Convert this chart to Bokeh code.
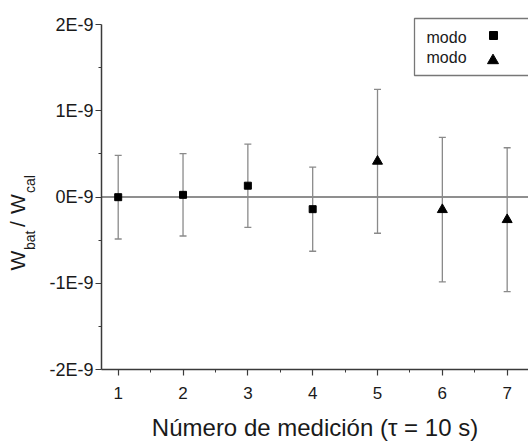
import numpy as np
from bokeh.plotting import figure
from bokeh.models import FixedTicker, Span, Range1d
from bokeh.core.properties import value
from bokeh.embed import file_html
from bokeh.resources import INLINE

# ---- data ----
sq_x = [1, 2, 3, 4]
sq_y = [-0.002e-9, 0.025e-9, 0.131e-9, -0.141e-9]
sq_err = [0.485e-9, 0.477e-9, 0.483e-9, 0.488e-9]

tr_x = [5, 6, 7]
tr_y = [0.414e-9, -0.147e-9, -0.263e-9]
tr_err = [0.834e-9, 0.838e-9, 0.834e-9]

y_ticks = [-2e-9, -1e-9, 0.0, 1e-9, 2e-9]
y_tick_labels = ["-2E-9", "-1E-9", "0E-9", "1E-9", "2E-9"]
y_minor = [-1.5e-9, -0.5e-9, 0.5e-9, 1.5e-9]
x_ticks = [1, 2, 3, 4, 5, 6, 7]
x_minor = [1.5, 2.5, 3.5, 4.5, 5.5, 6.5]

legend_labels = ["modo", "modo"]
x_title = "Número de medición (τ = 10 s)"
y_title_parts = ["W", "bat", "/", "W", "cal"]

FONT = "Liberation Sans"
BASE_K = 0.38  # correction: rendered alphabetic baseline sits lower by ~k*font size

# ---- layout geometry (pixels) ----
W, H = 528, 442
LEFT, RIGHT, TOP, BOTTOM = 101, 528, 5, 369
XS, XE = 0.7424, 7.329
YS = -2e-9
YE = YS + (BOTTOM - TOP) / 86.25 * 1e-9


def px2x(px):
    return XS + (px - LEFT) / (RIGHT - LEFT) * (XE - XS)


def px2y(py):
    return YS + (BOTTOM - py) / (BOTTOM - TOP) * (YE - YS)


p = figure(width=W, height=H, output_backend="svg", toolbar_location=None,
           x_range=Range1d(XS, XE), y_range=Range1d(YS, YE),
           min_border_left=LEFT, min_border_right=W - RIGHT,
           min_border_top=TOP, min_border_bottom=H - BOTTOM)
p.outline_line_color = None
p.grid.visible = False
p.background_fill_color = "white"
p.border_fill_color = "white"

AX = "#3a3a3a"
for ax in (p.xaxis[0], p.yaxis[0]):
    ax.axis_line_color = AX
    ax.axis_line_width = 1.5
    ax.major_tick_line_color = AX
    ax.minor_tick_line_color = AX
    ax.major_tick_line_width = 1.2
    ax.minor_tick_line_width = 1.0
    ax.major_tick_in = 0
    ax.major_tick_out = 6
    ax.minor_tick_in = 0
    ax.minor_tick_out = 3
    ax.major_label_text_font = FONT
    ax.major_label_text_color = "#1a1a1a"

p.yaxis[0].ticker = FixedTicker(ticks=y_ticks, minor_ticks=y_minor)
p.yaxis[0].major_label_overrides = {t: l for t, l in zip(y_ticks, y_tick_labels)}
p.yaxis[0].bounds = (-2e-9, 2e-9)
p.yaxis[0].major_label_text_font_size = "18px"
p.yaxis[0].major_label_standoff = 2

p.xaxis[0].ticker = FixedTicker(ticks=x_ticks, minor_ticks=x_minor)
p.xaxis[0].major_label_text_font_size = "17px"
p.xaxis[0].major_label_standoff = 11

# zero line
p.add_layout(Span(location=0, dimension="width", line_color="#6a6a6a",
                  line_width=1.5, level="underlay"))

EB = "#8a8a8a"
for xs, ys, es, marker, size in ((sq_x, sq_y, sq_err, "square", 7),
                                 (tr_x, tr_y, tr_err, "triangle", 10)):
    lo = [y - e for y, e in zip(ys, es)]
    hi = [y + e for y, e in zip(ys, es)]
    p.segment(x0=xs, y0=lo, x1=xs, y1=hi, line_color=EB, line_width=1.3)
    p.scatter(x=xs + xs, y=lo + hi, marker="dash", size=7, line_color=EB, line_width=1.3)
    p.scatter(x=xs, y=ys, marker=marker, size=size, fill_color="black", line_color="black")

# legend (text first, then marker), box clipped at right edge
p.quad(left=[px2x(414)], right=[px2x(540)], top=[px2y(18)], bottom=[px2y(75)],
       fill_color="white", line_color="#777777", line_width=1.3)
p.text(x=[px2x(426), px2x(426)], y=[px2y(43 - BASE_K * 16), px2y(63 - BASE_K * 16)],
       text=legend_labels, text_font=value(FONT), text_font_size="16px",
       text_color="#1a1a1a", text_baseline="alphabetic", text_align="left")
p.scatter(x=[px2x(493)], y=[px2y(35)], marker="square", size=8, fill_color="black", line_color="black")
p.scatter(x=[px2x(492.5)], y=[px2y(60)], marker="triangle", size=11, fill_color="black", line_color="black")

# y-axis title  W_bat / W_cal (rotated), drawn outside the frame
yfs_num = [21, 14, 21, 21, 14]
ybx = [25, 35, 25, 25, 35]
yby = [270, 249.5, 226.5, 213.5, 192.5]
p.text(x=[px2x(v - BASE_K * f) for v, f in zip(ybx, yfs_num)],
       y=[px2y(v) for v in yby], text=y_title_parts,
       angle=np.pi / 2, text_font=value(FONT),
       text_font_size=[f"{f}px" for f in yfs_num],
       text_color="#1a1a1a", text_align="left", text_baseline="alphabetic",
       level="overlay")

# x-axis title
p.text(x=[px2x((LEFT + RIGHT) / 2)], y=[px2y(436.5 - BASE_K * 24)], text=[x_title],
       text_font=value(FONT), text_font_size="24px", text_color="#1a1a1a",
       text_align="center", text_baseline="alphabetic", level="overlay")

open("out.html", "w").write(file_html(p, INLINE))
